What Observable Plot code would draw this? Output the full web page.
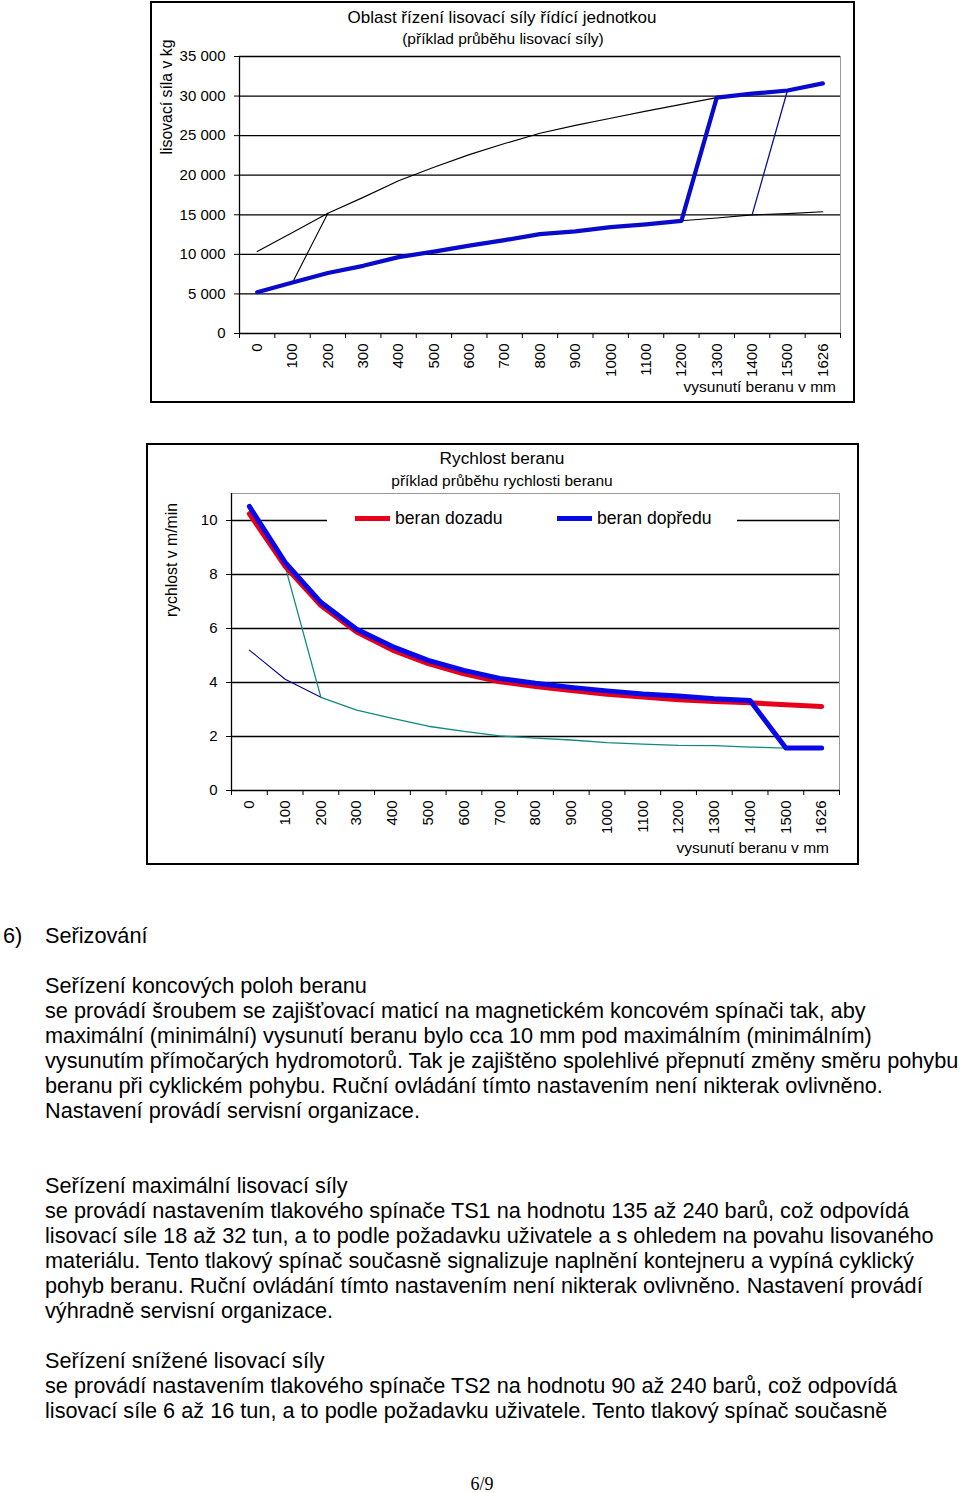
<!DOCTYPE html>
<html><head><meta charset="utf-8">
<script src="https://cdn.jsdelivr.net/npm/d3@7"></script>
<script src="https://cdn.jsdelivr.net/npm/@observablehq/plot@0.6"></script>
<style>
html,body{margin:0;padding:0;background:#fff;}
#page{position:relative;width:960px;height:1493px;overflow:hidden;font-family:"Liberation Sans",Arial,sans-serif;color:#000;background:#fff;}
.box{position:absolute;border:2px solid #000;box-sizing:border-box;}
.svgwrap{position:absolute;}
.ct{position:absolute;white-space:nowrap;transform:translate(-50%,-50%);line-height:1;}
.yl{position:absolute;white-space:nowrap;transform:translate(-50%,-50%) rotate(-90deg);line-height:1;}
.xt{position:absolute;white-space:nowrap;transform:translate(-100%,-50%);line-height:1;}
.lt{position:absolute;white-space:nowrap;transform:translate(0,-50%);line-height:1;}
.p{position:absolute;font-size:21.7px;line-height:25px;white-space:nowrap;}
</style></head><body><div id="page"></div>
<script>
// ---------- data ----------
const xLabels = ["0","100","200","300","400","500","600","700","800","900","1000","1100","1200","1300","1400","1500","1626"];

// chart 1: pressing force (kg)
const forceTicks = [0, 5000, 10000, 15000, 20000, 25000, 30000, 35000];
const forceMax = [10350, 12750, 15200, 17200, 19300, 21000, 22600, 24000, 25300, 26300, 27200, 28100, 28950, 29800, 30300, 30700, 31600];
const forceReduced = [5220, 6450, 7650, 8550, 9650, 10350, 11100, 11800, 12550, 12900, 13450, 13800, 14240, 14600, 14990, 15150, 15380];
const forceRam = [5220, 6450, 7650, 8550, 9650, 10350, 11100, 11800, 12550, 12900, 13450, 13800, 14240, 29800, 30300, 30700, 31600];
const forceSwitchLow = [null, 6450, 15200, null, null, null, null, null, null, null, null, null, null, null, null, null, null];
const forceSwitchHigh = [null, null, null, null, null, null, null, null, null, null, null, null, null, null, 14990, 30700, null];

// chart 2: ram speed (m/min)
const speedTicks = [0, 2, 4, 6, 8, 10];
const speedBack = [10.25, 8.3, 6.85, 5.87, 5.2, 4.7, 4.32, 4.03, 3.85, 3.7, 3.56, 3.46, 3.36, 3.3, 3.25, 3.18, 3.11];
const speedFwd = [10.52, 8.45, 6.97, 5.97, 5.33, 4.82, 4.45, 4.15, 3.97, 3.82, 3.69, 3.57, 3.5, 3.4, 3.33, 1.57, 1.57];
const speedStart = [5.2, 4.12, 3.45, null, null, null, null, null, null, null, null, null, null, null, null, null, null];
const speedSlow = [null, 8.3, 3.45, 2.98, 2.67, 2.38, 2.19, 2.02, 1.94, 1.87, 1.77, 1.72, 1.67, 1.66, 1.61, 1.57, null];
const legendNames = ["beran dozadu", "beran dopředu"];

// ---------- helpers ----------
const FONT = '"Liberation Sans", Arial, sans-serif';
const page = document.getElementById("page");
const pts = arr => arr.map((v, i) => ({i, v})).filter(d => d.v != null);
function el(cls, html, css) {
  const d = document.createElement("div");
  d.className = cls; d.innerHTML = html;
  Object.assign(d.style, css);
  page.appendChild(d); return d;
}
const bounds = d3.range(18).map(i => i - 0.5);
const cats = d3.range(17);

// ---------- chart 1 ----------
el("box", "", {left: "150px", top: "1px", width: "705px", height: "402px"});
const fmtForce = d => d === 0 ? "0" : d3.format(",")(d).replace(/,/g, " ");
const chart1 = Plot.plot({
  width: 705, height: 402,
  marginLeft: 89, marginRight: 15, marginTop: 55, marginBottom: 70,
  style: {fontFamily: FONT, fontSize: "15px", color: "#000", background: "transparent", overflow: "visible"},
  x: {type: "linear", domain: [-0.5, 16.5]},
  y: {type: "linear", domain: [0, 35000]},
  marks: [
    Plot.ruleX([16.5], {stroke: "#999", strokeWidth: 1}),
    Plot.gridY({ticks: forceTicks, stroke: "#000", strokeOpacity: 1, strokeWidth: 1.3}),
    Plot.ruleX([-0.5], {stroke: "#000", strokeWidth: 1.3}),
    Plot.axisY({ticks: forceTicks, tickSize: 5, tickPadding: 9, tickFormat: fmtForce, label: null}),
    Plot.axisX({ticks: bounds, tickSize: 5, tickFormat: () => "", label: null}),
    Plot.axisX({ticks: cats, tickSize: 0, tickPadding: 10, tickRotate: -90, tickFormat: i => xLabels[i], label: null}),
    Plot.line(pts(forceMax), {x: "i", y: "v", stroke: "#000", strokeWidth: 1.1}),
    Plot.line(pts(forceReduced), {x: "i", y: "v", stroke: "#000", strokeWidth: 1.1}),
    Plot.line(pts(forceSwitchLow), {x: "i", y: "v", stroke: "#000", strokeWidth: 1.1}),
    Plot.line(pts(forceSwitchHigh), {x: "i", y: "v", stroke: "#10108a", strokeWidth: 1.3}),
    Plot.line(pts(forceRam), {x: "i", y: "v", stroke: "#0a0acc", strokeWidth: 4.2})
  ]
});
el("svgwrap", "", {left: "150px", top: "1px"}).appendChild(chart1);
el("ct", "Oblast řízení lisovací síly řídící jednotkou", {left: "502px", top: "17px", fontSize: "17px"});
el("ct", "(příklad průběhu lisovací síly)", {left: "503px", top: "39px", fontSize: "15.5px"});
el("yl", "lisovací síla v kg", {left: "167px", top: "97px", fontSize: "15.8px"});
el("xt", "vysunutí beranu v mm", {left: "836px", top: "387px", fontSize: "15.5px"});

// ---------- chart 2 ----------
el("box", "", {left: "146px", top: "443px", width: "713px", height: "422px"});
const chart2 = Plot.plot({
  width: 713, height: 422,
  marginLeft: 85, marginRight: 20, marginTop: 50, marginBottom: 75,
  style: {fontFamily: FONT, fontSize: "15px", color: "#000", background: "transparent", overflow: "visible"},
  x: {type: "linear", domain: [-0.5, 16.5]},
  y: {type: "linear", domain: [0, 11]},
  marks: [
    Plot.ruleX([16.5], {stroke: "#999", strokeWidth: 1}),
    Plot.ruleY([11], {stroke: "#999", strokeWidth: 1}),
    Plot.gridY({ticks: speedTicks, stroke: "#000", strokeOpacity: 1, strokeWidth: 1.3}),
    Plot.ruleX([-0.5], {stroke: "#000", strokeWidth: 1.3}),
    Plot.axisY({ticks: speedTicks, tickSize: 5, tickPadding: 9, label: null}),
    Plot.axisX({ticks: bounds, tickSize: 5, tickFormat: () => "", label: null}),
    Plot.axisX({ticks: cats, tickSize: 0, tickPadding: 10, tickRotate: -90, tickFormat: i => xLabels[i], label: null}),
    Plot.line(pts(speedStart), {x: "i", y: "v", stroke: "#000090", strokeWidth: 1.1}),
    Plot.line(pts(speedSlow), {x: "i", y: "v", stroke: "#108a80", strokeWidth: 1.3}),
    Plot.line(pts(speedBack), {x: "i", y: "v", stroke: "#e8001a", strokeWidth: 5}),
    Plot.line(pts(speedFwd), {x: "i", y: "v", stroke: "#0808e8", strokeWidth: 5})
  ]
});
el("svgwrap", "", {left: "146px", top: "443px"}).appendChild(chart2);
el("ct", "Rychlost beranu", {left: "502px", top: "459px", fontSize: "17.3px"});
el("ct", "příklad průběhu rychlosti beranu", {left: "502px", top: "481px", fontSize: "15.5px"});
el("yl", "rychlost v m/min", {left: "172px", top: "560px", fontSize: "15.8px"});
el("xt", "vysunutí beranu v mm", {left: "829px", top: "848px", fontSize: "15.5px"});
// legend
el("box", "", {left: "327px", top: "506px", width: "410px", height: "26px", background: "#fff", border: "none"});
el("box", "", {left: "355px", top: "516px", width: "35px", height: "5px", background: "#e8001a", border: "none"});
el("lt", legendNames[0], {left: "395px", top: "519px", fontSize: "17.6px"});
el("box", "", {left: "557px", top: "516px", width: "35px", height: "5px", background: "#0808e8", border: "none"});
el("lt", legendNames[1], {left: "597px", top: "519px", fontSize: "17.6px"});

// ---------- body text ----------
const textLines = [
  [935, "Seřizování"],
  [985, "Seřízení koncových poloh beranu"],
  [1010, "se provádí šroubem se zajišťovací maticí na magnetickém koncovém spínači tak, aby"],
  [1035, "maximální (minimální) vysunutí beranu bylo cca 10 mm pod maximálním (minimálním)"],
  [1060, "vysunutím přímočarých hydromotorů. Tak je zajištěno spolehlivé přepnutí změny směru pohybu"],
  [1085, "beranu při cyklickém pohybu. Ruční ovládání tímto nastavením není nikterak ovlivněno."],
  [1110, "Nastavení provádí servisní organizace."],
  [1185, "Seřízení maximální lisovací síly"],
  [1210, "se provádí nastavením tlakového spínače TS1 na hodnotu 135 až 240 barů, což odpovídá"],
  [1235, "lisovací síle 18 až 32 tun, a to podle požadavku uživatele a s ohledem na povahu lisovaného"],
  [1260, "materiálu. Tento tlakový spínač současně signalizuje naplnění kontejneru a vypíná cyklický"],
  [1285, "pohyb beranu. Ruční ovládání tímto nastavením není nikterak ovlivněno. Nastavení provádí"],
  [1310, "výhradně servisní organizace."],
  [1360, "Seřízení snížené lisovací síly"],
  [1385, "se provádí nastavením tlakového spínače TS2 na hodnotu 90 až 240 barů, což odpovídá"],
  [1410, "lisovací síle 6 až 16 tun, a to podle požadavku uživatele. Tento tlakový spínač současně"]
];
el("p", "6)", {left: "3px", top: (935 - 12) + "px"});
for (const [y, t] of textLines) el("p", t, {left: "45px", top: (y - 12) + "px"});
el("ct", "6/9", {left: "482px", top: "1484px", fontSize: "18px", fontFamily: '"Liberation Serif", "Times New Roman", serif'});
</script></body></html>
